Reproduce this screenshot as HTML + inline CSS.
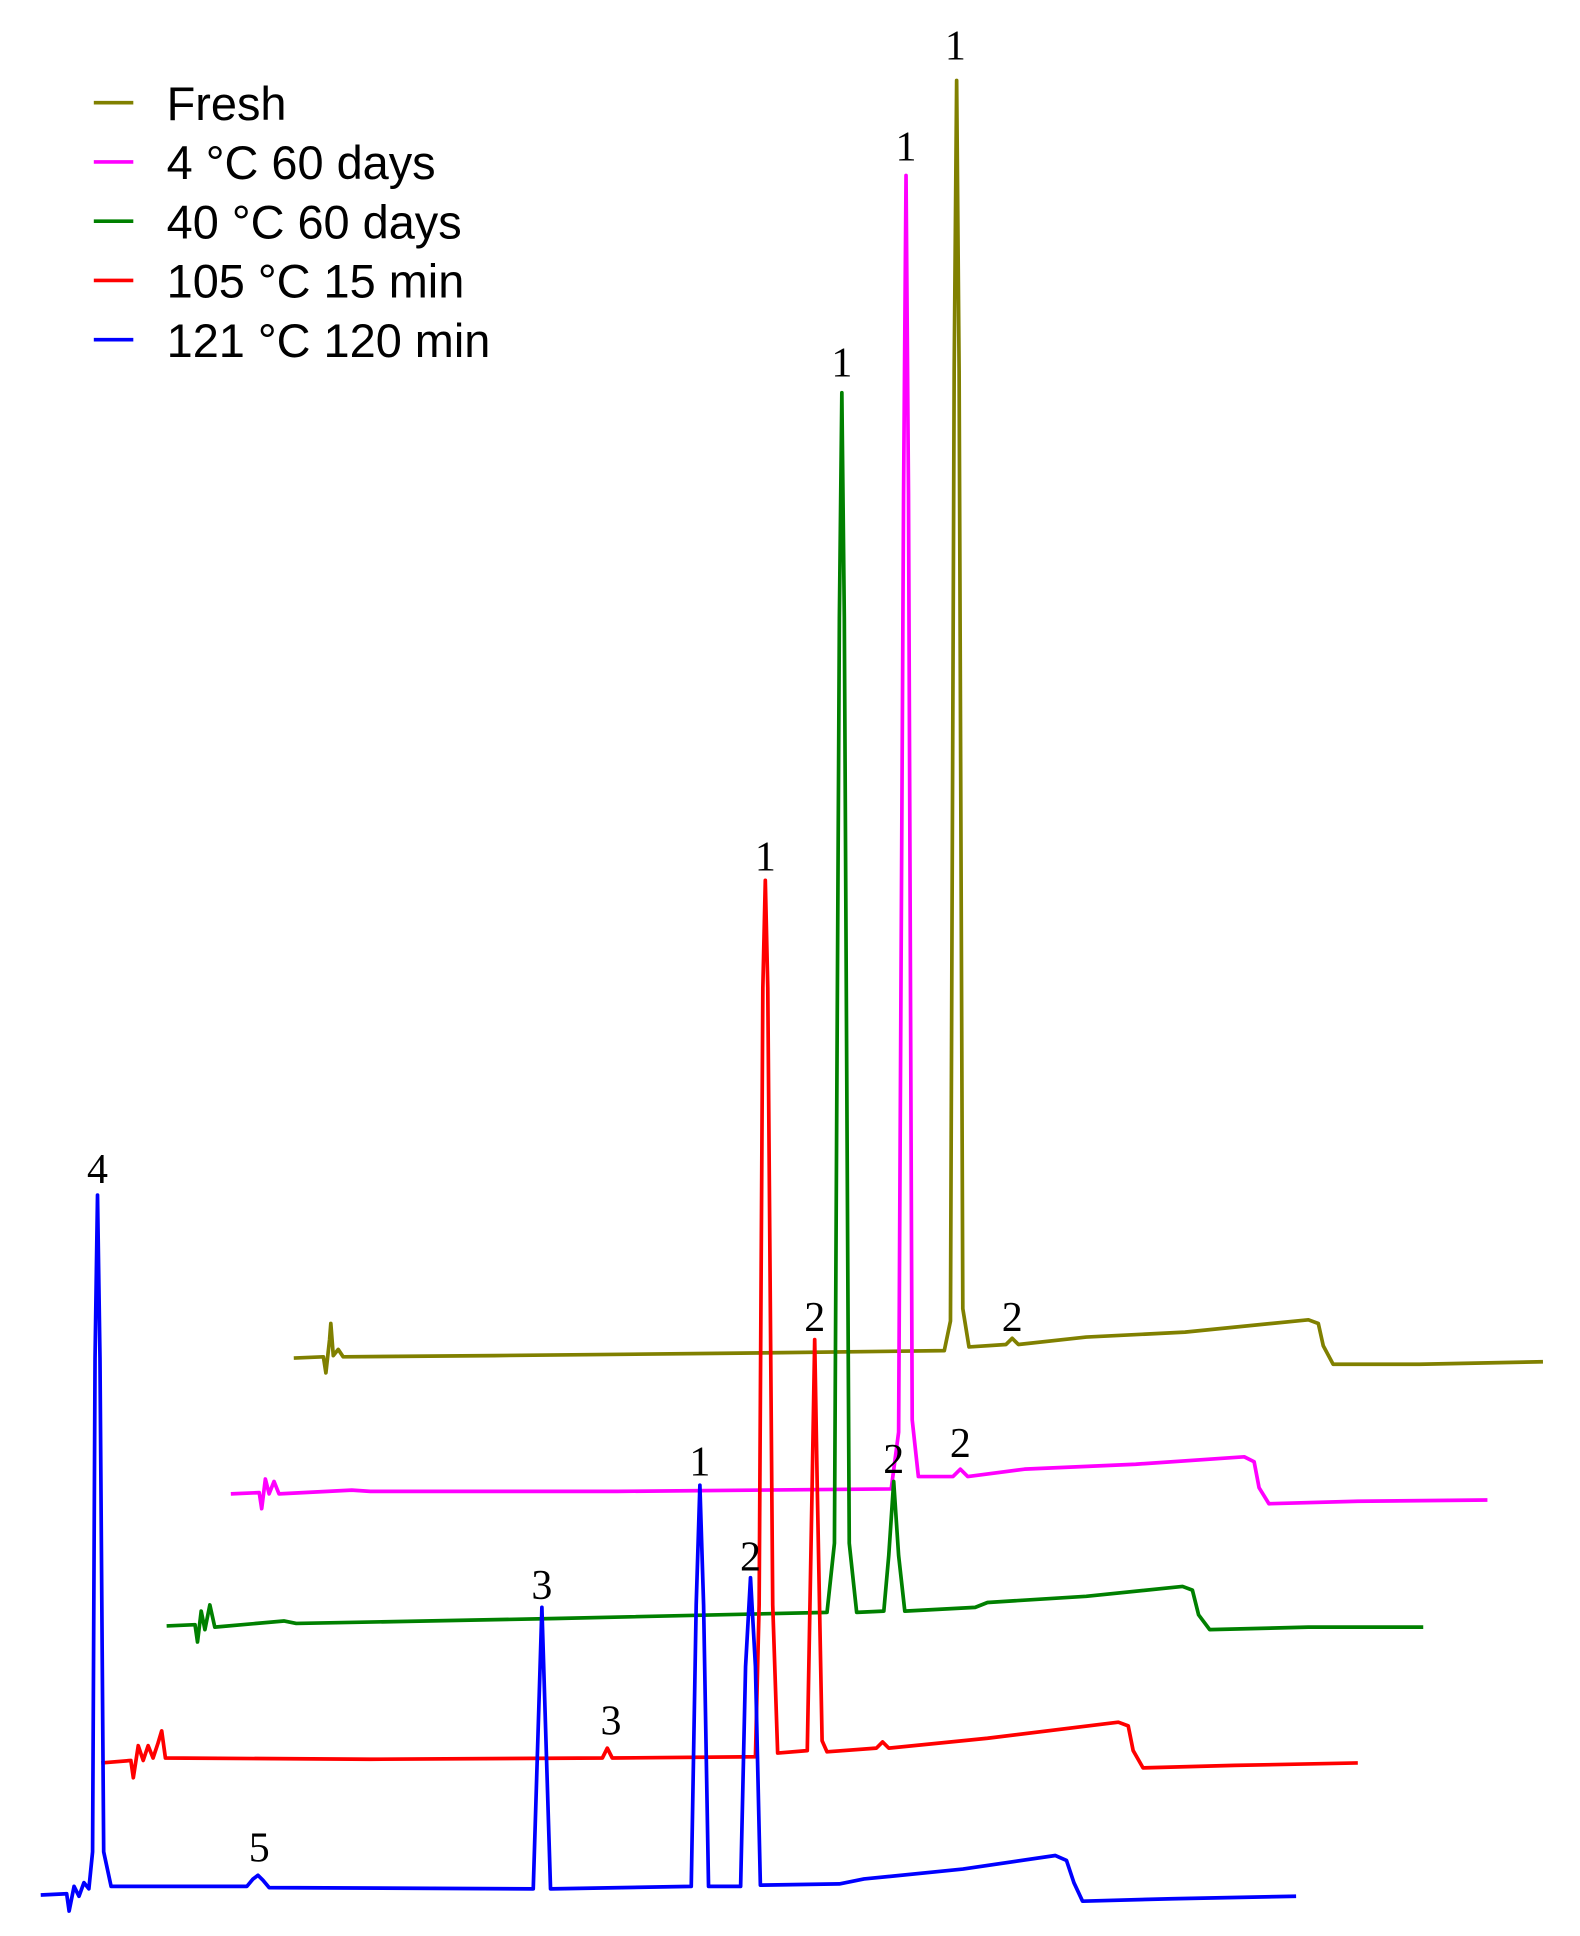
<!DOCTYPE html>
<html><head><meta charset="utf-8"><style>
html,body{margin:0;padding:0;background:#fff;}
svg{display:block}
.t{font-family:"Liberation Serif",serif;font-size:34px;fill:#000}
.l{font-family:"Liberation Sans",sans-serif;font-size:38px;fill:#000}
path{fill:none;stroke-width:3;stroke-linejoin:round}
</style></head><body>
<svg width="1580" height="1936" viewBox="0 0 1280 1568" xmlns="http://www.w3.org/2000/svg">
<line x1="76" y1="83" x2="108" y2="83" stroke="#808000" stroke-width="3"/>
<line x1="76" y1="131" x2="108" y2="131" stroke="#ff00ff" stroke-width="3"/>
<line x1="76" y1="179" x2="108" y2="179" stroke="#008000" stroke-width="3"/>
<line x1="76" y1="227" x2="108" y2="227" stroke="#ff0000" stroke-width="3"/>
<line x1="76" y1="275" x2="108" y2="275" stroke="#0000ff" stroke-width="3"/>
<text class="l" x="135" y="97">Fresh</text>
<text class="l" x="135" y="145">4 °C 60 days</text>
<text class="l" x="135" y="193">40 °C 60 days</text>
<text class="l" x="135" y="241">105 °C 15 min</text>
<text class="l" x="135" y="289">121 °C 120 min</text>

<path stroke="#808000" d="M238,1100 L262,1099 L264,1112 L267,1085 L268,1072 L270,1098 L274,1093 L278,1099 L400,1098 L600,1096 L765,1094 L770,1070 L773,300 L775,65 L777,300 L780,1060 L785,1091 L815,1089 L820,1084 L825,1089 L880,1083 L960,1079 L1060,1069 L1068,1072 L1072,1090 L1080,1105 L1150,1105 L1250,1103"/>
<path stroke="#ff00ff" d="M187,1210 L210,1209 L212,1222 L215,1198 L218,1210 L222,1200 L226,1210 L285,1207 L300,1208 L500,1208 L722,1206 L728,1160 L732,400 L734,142 L736,400 L739,1150 L744,1196 L772,1196 L778,1190 L784,1196 L830,1190 L920,1186 L1008,1180 L1016,1184 L1020,1205 L1028,1218 L1100,1216 L1205,1215"/>
<path stroke="#008000" d="M135,1317 L158,1316 L160,1330 L163,1305 L166,1320 L170,1300 L174,1318 L230,1313 L240,1315 L450,1311 L670,1306 L676,1250 L680,500 L682,318 L684,500 L688,1250 L694,1306 L716,1305 L720,1260 L724,1200 L728,1260 L733,1305 L790,1302 L800,1298 L880,1293 L958,1285 L966,1288 L971,1308 L980,1320 L1060,1318 L1153,1318"/>
<path stroke="#ff0000" d="M82,1428 L106,1426 L108,1440 L112,1414 L116,1426 L120,1414 L124,1424 L128,1412 L131,1402 L134,1424 L300,1425 L488,1424 L492,1416 L496,1424 L612,1423 L615,1300 L618,800 L620,713 L622,800 L626,1300 L630,1420 L654,1418 L658,1200 L660,1085 L662,1200 L666,1410 L670,1419 L710,1416 L715,1411 L720,1416 L800,1408 L906,1395 L914,1398 L918,1418 L926,1432 L1000,1430 L1100,1428"/>
<path stroke="#0000ff" d="M33,1535 L54,1534 L56,1548 L60,1528 L64,1536 L68,1525 L72,1530 L75,1500 L77,1100 L79,968 L81,1100 L84,1500 L90,1528 L200,1528 L205,1522 L209,1519 L213,1523 L218,1529 L432,1530 L436,1400 L439,1302 L442,1400 L446,1530 L560,1528 L564,1300 L567,1203 L570,1300 L574,1528 L600,1528 L604,1350 L608,1278 L612,1350 L616,1527 L680,1526 L700,1522 L780,1514 L855,1503 L864,1507 L870,1525 L877,1540 L950,1538 L1050,1536"/>

<text class="t" x="774" y="48" text-anchor="middle">1</text>
<text class="t" x="734" y="130" text-anchor="middle">1</text>
<text class="t" x="682" y="305" text-anchor="middle">1</text>
<text class="t" x="620" y="705" text-anchor="middle">1</text>
<text class="t" x="567" y="1195" text-anchor="middle">1</text>
<text class="t" x="820" y="1078" text-anchor="middle">2</text>
<text class="t" x="778" y="1180" text-anchor="middle">2</text>
<text class="t" x="724" y="1193" text-anchor="middle">2</text>
<text class="t" x="660" y="1078" text-anchor="middle">2</text>
<text class="t" x="608" y="1272" text-anchor="middle">2</text>
<text class="t" x="439" y="1295" text-anchor="middle">3</text>
<text class="t" x="495" y="1405" text-anchor="middle">3</text>
<text class="t" x="79" y="958" text-anchor="middle">4</text>
<text class="t" x="210" y="1508" text-anchor="middle">5</text>
</svg>
</body></html>
